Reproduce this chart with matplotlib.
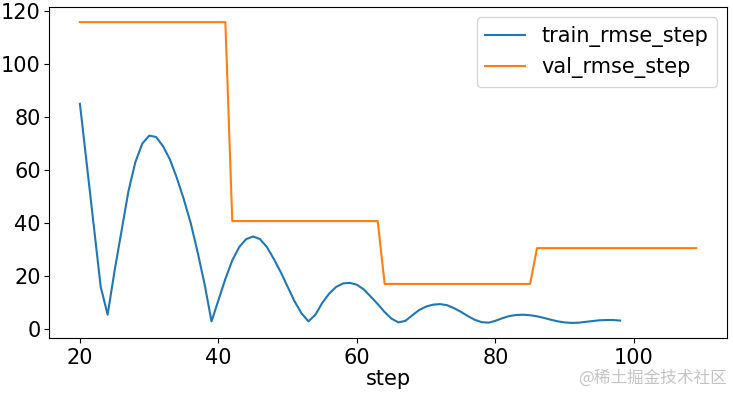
import matplotlib
matplotlib.use("Agg")
import matplotlib.pyplot as plt

# train rmse logged every step
train_step = list(range(20, 99))
train_rmse = [85, 62, 39, 16, 5.5, 22, 37, 52, 63, 70,
              73, 72.5, 69, 64, 57, 49, 40, 29, 17, 3,
              11, 19, 26, 31, 34, 35, 34, 31, 26.5, 21.5,
              16, 10.5, 6, 3, 5.5, 10, 13.5, 16, 17.3, 17.5,
              16.8, 15, 12.3, 9.5, 6.5, 4, 2.6, 3.2, 5.3, 7.3,
              8.6, 9.3, 9.5, 9.1, 8, 6.6, 5, 3.6, 2.7, 2.5,
              3.2, 4.2, 5, 5.4, 5.5, 5.3, 4.9, 4.3, 3.6, 3,
              2.6, 2.4, 2.5, 2.8, 3.1, 3.4, 3.5, 3.5, 3.3]

# val rmse only changes at each validation
val_step = [20, 41, 42, 63, 64, 85, 86, 109]
val_rmse = [115.8, 115.8, 40.8, 40.8, 17.1, 17.1, 30.6, 30.6]

plt.rcParams['font.size'] = 15

fig = plt.figure(figsize=(7.33, 3.93), dpi=100)
ax = fig.add_axes([0.067, 0.14, 0.925, 0.842])
ax.plot(train_step, train_rmse, color='#1f77b4', lw=1.5, label='train_rmse_step')
ax.plot(val_step, val_rmse, color='#ff7f0e', lw=1.5, label='val_rmse_step')
ax.set_xlabel('step', labelpad=1)
ax.set_xticks([20, 40, 60, 80, 100])
ax.set_yticks([0, 20, 40, 60, 80, 100, 120])
ax.tick_params(axis='y', pad=2.5)
ax.legend(loc='upper right', handlelength=1.9)

fig.text(0.992, 0.015, '@稀土掘金技术社区', ha='right', va='bottom', fontsize=12,
         color='#c4c4c4', family=['Noto Sans CJK SC', 'DejaVu Sans'])

fig.savefig('out.png', dpi=100)
